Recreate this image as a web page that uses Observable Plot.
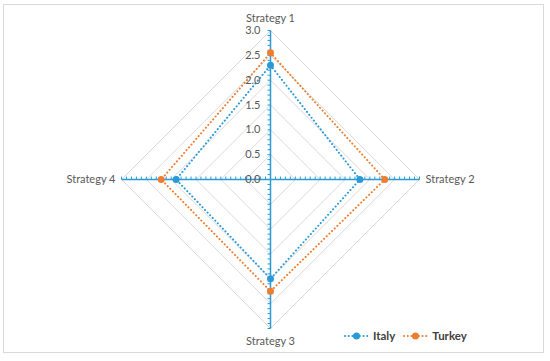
<!DOCTYPE html>
<html><head><meta charset="utf-8">
<script src="https://cdn.jsdelivr.net/npm/d3@7"></script>
<script src="https://cdn.jsdelivr.net/npm/@observablehq/plot@0.6"></script>
<style>
body{margin:0;background:#fff;}
#wrap{position:relative;width:550px;height:361px;overflow:hidden;}
#frame{position:absolute;left:3px;top:4px;width:541px;height:349px;border:1px solid #d9d9d9;box-sizing:border-box;}
#legend{position:absolute;left:344px;top:329px;display:flex;align-items:center;font-family:Lato,"Open Sans",sans-serif;font-weight:bold;font-size:11.5px;color:#404040;}
#legend .item{display:flex;align-items:center;margin-right:8px;}
#legend svg{margin-right:4px;}
</style></head>
<body><div id="wrap"><div id="frame"></div><div id="chart"></div><div id="legend"></div></div>
<script>
const categories = ["Strategy 1", "Strategy 2", "Strategy 3", "Strategy 4"];
const seriesNames = ["Italy", "Turkey"];
const italy = [2.3, 1.8, 2.0, 1.9];
const turkey = [2.55, 2.3, 2.25, 2.2];
const tickValues = [0, 0.5, 1.0, 1.5, 2.0, 2.5, 3.0];
const tickLabels = ["0.0", "0.5", "1.0", "1.5", "2.0", "2.5", "3.0"];
const rMax = 3;
const colors = ["#2a9ad6", "#ed7d31"];

const ang = i => i * Math.PI / 2;
const pt = (i, r) => ({x: r * Math.sin(ang(i)), y: r * Math.cos(ang(i))});

const grid = [];
tickValues.filter(v => v > 0).forEach(v => {
  for (let k = 0; k <= categories.length; k++) grid.push({...pt(k % 4, v), ring: v});
});
const spokes = categories.map((c, i) => ({x1: 0, y1: 0, x2: pt(i, rMax).x, y2: pt(i, rMax).y}));
const tickLen = 0.06;
const minor = [];
categories.forEach((c, i) => {
  for (let t = 1; t <= 30; t++) {
    const p = pt(i, t / 10);
    const vertical = i % 2 === 0;
    minor.push({x1: p.x, y1: p.y, x2: vertical ? p.x - tickLen : p.x, y2: vertical ? p.y : p.y + tickLen});
  }
});
const series = [italy, turkey];
const lines = [];
series.forEach((vals, s) => {
  for (let k = 0; k <= vals.length; k++) lines.push({...pt(k % 4, vals[k % 4]), s: seriesNames[s]});
});
const points = [];
series.forEach((vals, s) => vals.forEach((v, i) => points.push({...pt(i, v), s: seriesNames[s]})));

const labelOpts = [
  {dy: -12, textAnchor: "middle"},
  {dx: 6, textAnchor: "start"},
  {dy: 13, textAnchor: "middle"},
  {dx: -6, textAnchor: "end"}
];

const chart = Plot.plot({
  width: 550, height: 361,
  marginLeft: 121, marginRight: 131, marginTop: 30, marginBottom: 33,
  x: {domain: [-3, 3], axis: null},
  y: {domain: [-3, 3], axis: null},
  color: {domain: seriesNames, range: colors},
  style: {background: "transparent", fontFamily: "Lato, 'Open Sans', sans-serif"},
  marks: [
    Plot.line(grid, {x: "x", y: "y", z: "ring", stroke: "#d9d9d9", strokeWidth: 1}),
    Plot.link(spokes, {x1: "x1", y1: "y1", x2: "x2", y2: "y2", stroke: colors[0], strokeWidth: 1.5}),
    Plot.link(minor, {x1: "x1", y1: "y1", x2: "x2", y2: "y2", stroke: colors[0], strokeWidth: 1}),
    Plot.line(lines, {x: "x", y: "y", z: "s", stroke: "s", strokeWidth: 2, strokeDasharray: "0.1 3.6", strokeLinecap: "round"}),
    Plot.dot(points, {x: "x", y: "y", fill: "s", r: 3.5}),
    Plot.text(tickValues, {x: 0, y: d => d, text: (d, i) => tickLabels[i], textAnchor: "end", dx: -10, fill: "#595959", fontSize: 11}),
    ...categories.map((c, i) => Plot.text([c], {x: pt(i, rMax).x, y: pt(i, rMax).y, text: d => d, fill: "#595959", fontSize: 11, ...labelOpts[i]}))
  ]
});
document.getElementById("chart").appendChild(chart);

const legend = document.getElementById("legend");
seriesNames.forEach((n, s) => {
  const item = document.createElement("div");
  item.className = "item";
  item.innerHTML = `<svg width="25" height="10"><line x1="1" y1="5" x2="24" y2="5" stroke="${colors[s]}" stroke-width="2" stroke-dasharray="0.1 3.6" stroke-linecap="round"/><circle cx="12.5" cy="5" r="3.5" fill="${colors[s]}"/></svg><span>${n}</span>`;
  legend.appendChild(item);
});
</script></body></html>
